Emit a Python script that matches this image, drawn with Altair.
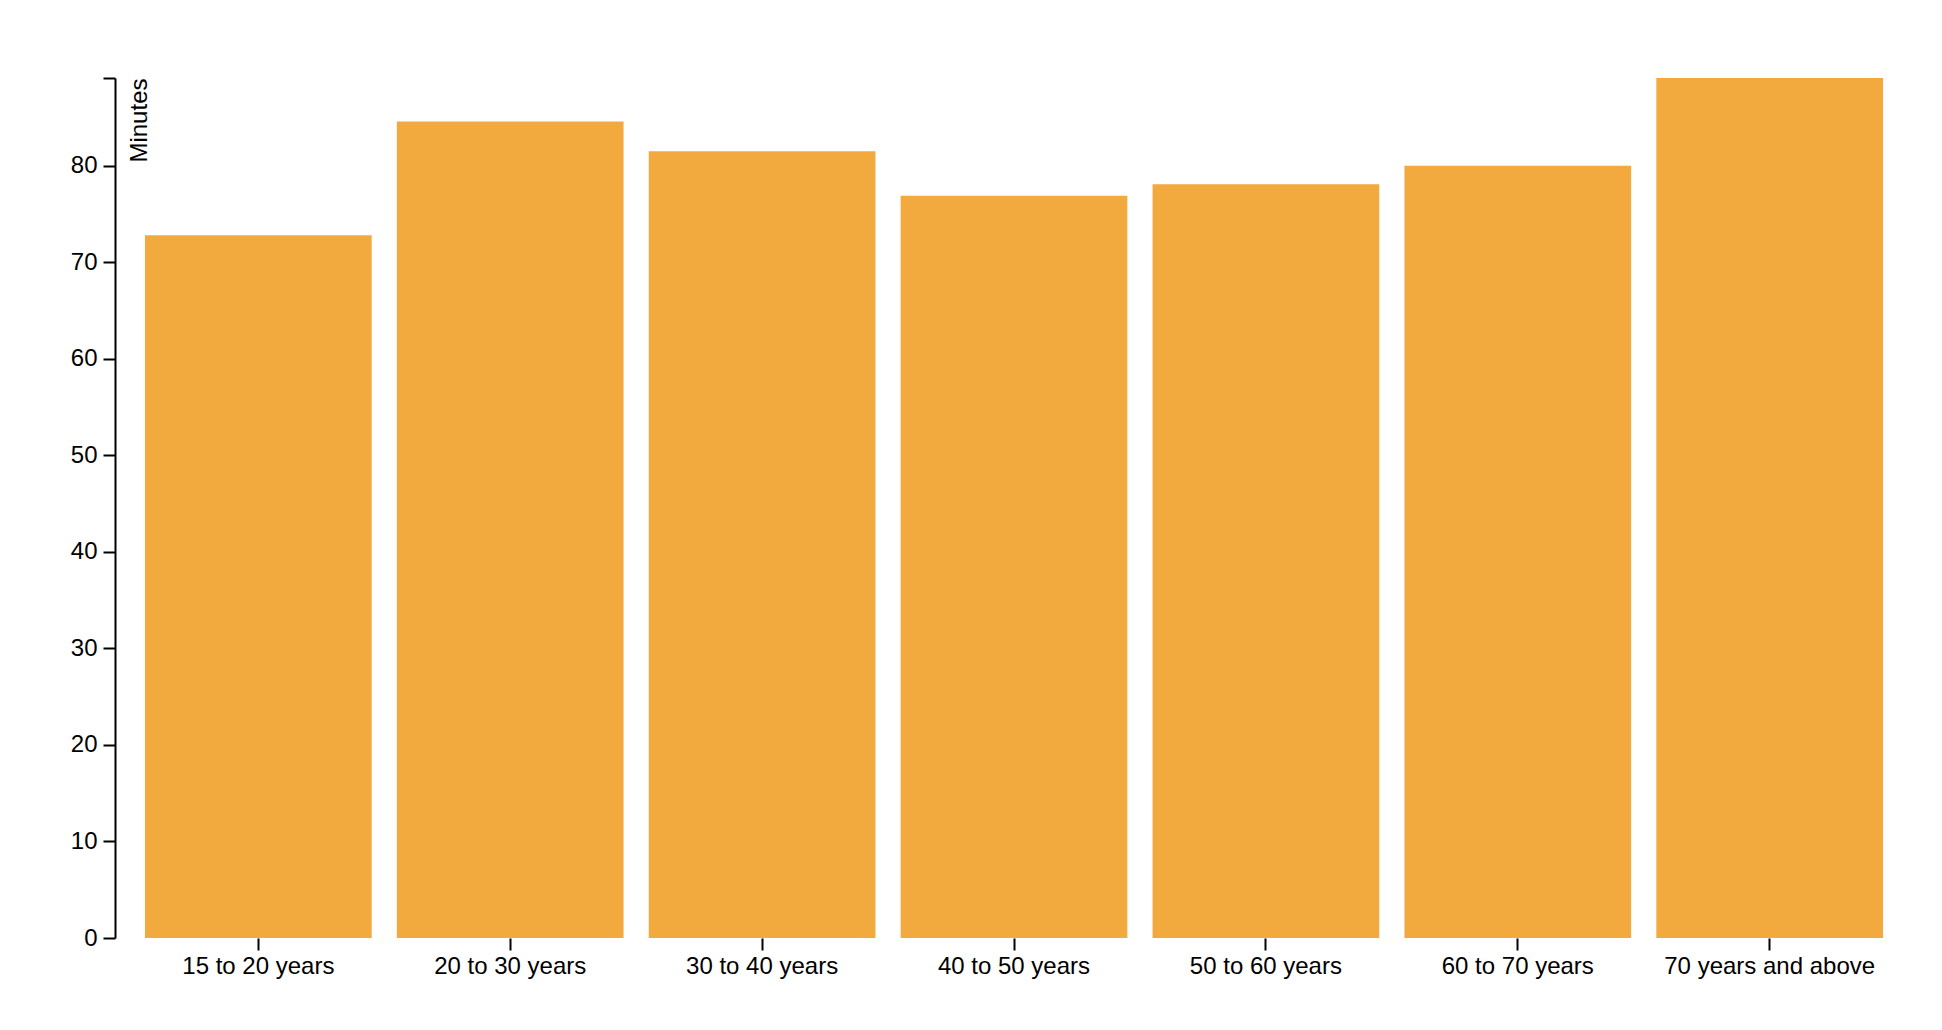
import altair as alt
import pandas as pd

# average minutes per age group
age_groups = [
    "15 to 20 years",
    "20 to 30 years",
    "30 to 40 years",
    "40 to 50 years",
    "50 to 60 years",
    "60 to 70 years",
    "70 years and above",
]
minutes = [72.8, 84.6, 81.5, 76.9, 78.1, 80.0, 89.1]
y_ticks = [0, 10, 20, 30, 40, 50, 60, 70, 80]

df = pd.DataFrame({"age": age_groups, "minutes": minutes})

FONT = "Liberation Sans, Arial, Helvetica, sans-serif"
BAR_COLOR = "#f2aa3f"

chart = (
    alt.Chart(df)
    .mark_bar(color=BAR_COLOR)
    .encode(
        x=alt.X(
            "age:N",
            sort=age_groups,
            scale=alt.Scale(paddingInner=0.1, paddingOuter=0.119),
            axis=alt.Axis(
                title=None,
                labelAngle=0,
                labelLimit=0,
                domain=False,
                ticks=True,
                tickSize=12,
                tickWidth=2,
                tickColor="black",
                labelColor="black",
                labelFont=FONT,
                labelFontSize=24,
                labelPadding=4,
            ),
        ),
        y=alt.Y(
            "minutes:Q",
            scale=alt.Scale(zero=True, nice=False),
            axis=alt.Axis(
                title="Minutes",
                values=y_ticks + [max(minutes)],
                labelExpr="datum.value > 80 ? '' : datum.label",
                grid=False,
                domainColor="black",
                domainWidth=2,
                tickColor="black",
                tickWidth=2,
                tickSize=12,
                labelColor="black",
                labelFont=FONT,
                labelFontSize=24,
                labelPadding=6,
                titleFont=FONT,
                titleFontSize=24,
                titleFontWeight="normal",
                titleColor="black",
                titleAngle=270,
                titleAlign="right",
                titleBaseline="top",
                titleX=12,
                titleY=0,
            ),
        ),
    )
    .properties(
        width=1798,
        height=860,
        autosize=alt.AutoSizeParams(type="none"),
        padding={"left": 107, "top": 70, "right": 10, "bottom": 60},
    )
    .configure_view(stroke=None)
)

chart.save("out.html", embed_options={"renderer": "svg", "actions": False})
